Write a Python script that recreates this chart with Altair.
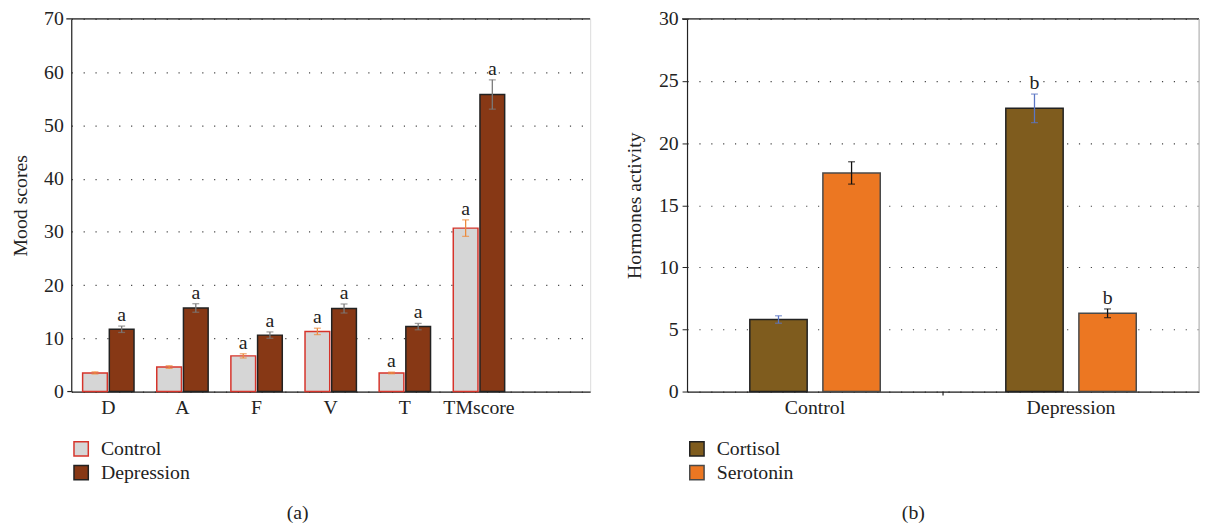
import altair as alt
import pandas as pd

# ---------------- data ----------------
mood_categories = ["D", "A", "F", "V", "T", "TMscore"]
control_scores = [3.5, 4.6, 6.7, 11.3, 3.5, 30.7]
control_err = [0.2, 0.25, 0.4, 0.6, 0.15, 1.55]
control_marks = ["", "", "a", "a", "a", "a"]
depression_scores = [11.7, 15.7, 10.6, 15.6, 12.2, 55.8]
depression_err = [0.6, 0.8, 0.6, 0.85, 0.6, 2.75]
depression_marks = ["a", "a", "a", "a", "a", "a"]

hormone_groups = ["Control", "Depression"]
cortisol = [5.8, 22.8]
cortisol_err = [0.3, 1.15]
cortisol_marks = ["", "b"]
serotonin = [17.6, 6.3]
serotonin_err = [0.9, 0.35]
serotonin_marks = ["", "b"]

FONT = "Liberation Serif"
FS = 20

rows_a = []
for i, c in enumerate(mood_categories):
    rows_a.append({"cat": c, "group": "Control", "value": control_scores[i],
                   "err": control_err[i], "mark": control_marks[i]})
    rows_a.append({"cat": c, "group": "Depression", "value": depression_scores[i],
                   "err": depression_err[i], "mark": depression_marks[i]})
df_a = pd.DataFrame(rows_a)

rows_b = []
for i, g in enumerate(hormone_groups):
    rows_b.append({"cat": g, "group": "Cortisol", "value": cortisol[i],
                   "err": cortisol_err[i], "mark": cortisol_marks[i]})
    rows_b.append({"cat": g, "group": "Serotonin", "value": serotonin[i],
                   "err": serotonin_err[i], "mark": serotonin_marks[i]})
df_b = pd.DataFrame(rows_b)

one = pd.DataFrame({"k": [0]})  # single row for decorative frame / caption marks


def panel(df, cats, groups, fills, strokes, errcolors, ymax, ystep, ytitle,
          W, H, pin, pout, xdomain, yticks, caption, caption_x, legend_x, title_pad):
    base = alt.Chart(df).transform_calculate(
        lo="datum.value - datum.err", hi="datum.value + datum.err"
    )
    xenc = alt.X("cat:N", scale=alt.Scale(domain=xdomain, paddingInner=0, paddingOuter=0),
                 sort=xdomain,
                 axis=alt.Axis(title=None, ticks=False, labelAngle=0, labelFont=FONT,
                               labelFontSize=FS, labelColor="#222", labelPadding=6,
                               domainColor="#222", domainWidth=1.2))
    xoff = alt.XOffset("group:N", sort=groups,
                       scale=alt.Scale(domain=groups, paddingInner=pin, paddingOuter=pout))
    yscale = alt.Scale(domain=[0, ymax], nice=False)
    yaxis = alt.Axis(values=list(range(0, ymax + 1, ystep)), grid=True, gridDash=[1.2, 10.8],
                     gridColor="#444", gridWidth=1.2, ticks=yticks, tickSize=5,
                     tickColor="#222", domainColor="#222", domainWidth=1.2,
                     labelFont=FONT, labelFontSize=FS, labelColor="#222",
                     labelPadding=4 if yticks else 8,
                     title=ytitle, titleFont=FONT, titleFontSize=FS,
                     titleFontWeight="normal", titleColor="#222", titlePadding=title_pad)

    bars = base.mark_bar(strokeWidth=1.5).encode(
        x=xenc,
        xOffset=xoff,
        y=alt.Y("value:Q", scale=yscale, axis=yaxis),
        fill=alt.Fill("group:N", scale=alt.Scale(domain=groups, range=fills),
                      legend=alt.Legend(title=None, orient="none", legendX=legend_x,
                                        legendY=H + 48, symbolType="square",
                                        symbolSize=210, symbolStrokeWidth=1.5,
                                        labelFont=FONT, labelFontSize=FS,
                                        labelColor="#222", rowPadding=2, labelOffset=10)),
        stroke=alt.Stroke("group:N", scale=alt.Scale(domain=groups, range=strokes)),
    )

    layers = [bars]
    for g, col in zip(groups, errcolors):
        sub = base.transform_filter(alt.datum.group == g)
        layers.append(sub.mark_rule(color=col, strokeWidth=1.3).encode(
            x=alt.X("cat:N"), xOffset=alt.XOffset("group:N"),
            y=alt.Y("lo:Q"), y2="hi:Q"))
        layers.append(sub.mark_tick(color=col, thickness=1.3, size=7, orient="horizontal").encode(
            x=alt.X("cat:N"), xOffset=alt.XOffset("group:N"), y=alt.Y("lo:Q")))
        layers.append(sub.mark_tick(color=col, thickness=1.3, size=7, orient="horizontal").encode(
            x=alt.X("cat:N"), xOffset=alt.XOffset("group:N"), y=alt.Y("hi:Q")))

    labels = base.mark_text(font=FONT, fontSize=FS, color="#222", baseline="bottom",
                            dy=-1).encode(
        x=alt.X("cat:N"), xOffset=alt.XOffset("group:N"), y=alt.Y("hi:Q"),
        text="mark:N")
    layers.append(labels)

    # frame lines
    top = alt.Chart(one).mark_rule(color="#222", strokeWidth=1.2).encode(
        x=alt.value(-5), x2=alt.value(W), y=alt.value(0))
    layers.append(top)
    if not yticks:
        bottom_ext = alt.Chart(one).mark_rule(color="#222", strokeWidth=1.2).encode(
            x=alt.value(-4), x2=alt.value(0), y=alt.value(H))
        layers.append(bottom_ext)
    cap = alt.Chart(one).mark_text(font=FONT, fontSize=FS, color="#222", fontWeight="normal",
                                   baseline="middle").encode(
        x=alt.value(caption_x), y=alt.value(H + 123), text=alt.value(caption))
    layers.append(cap)

    return alt.layer(*layers).properties(width=W, height=H)


left = panel(df_a, mood_categories, ["Control", "Depression"],
             ["#d6d6d6", "#873815"], ["#d6342b", "#222222"], ["#ec8a3c", "#7a7a7a"],
             70, 10, "Mood scores", 525, 377, 0.074, 0.426,
             mood_categories + [" "], False, "(a)", 229, 0, 13)

right_core = panel(df_b, hormone_groups, ["Cortisol", "Serotonin"],
                   ["#7f5c1e", "#ec7722"], ["#222222", "#4a4a4a"], ["#5b76c4", "#111111"],
                   30, 5, "Hormones activity", 518, 377, 0.215, 0.859,
                   hormone_groups, True, "(b)", 229, 0, 14)

rb = alt.Chart(one).mark_rule(color="#bbbbbb", strokeWidth=1.2).encode(
    x=alt.value(518), y=alt.value(0), y2=alt.value(377))
mid_tick = alt.Chart(one).mark_rule(color="#222", strokeWidth=1.2).encode(
    x=alt.value(259), y=alt.value(377), y2=alt.value(381))
right = alt.layer(right_core, rb, mid_tick)

chart = alt.hconcat(left, right, spacing=32).resolve_scale(
    fill="independent", stroke="independent", x="independent", y="independent",
    xOffset="independent"
).resolve_legend(fill="independent", stroke="independent").properties(
    padding={"left": 2, "top": -3, "right": 0, "bottom": 0}
).configure_view(stroke=None).configure(background="white")

chart.save("out.html", embed_options={"renderer": "svg", "actions": False})
